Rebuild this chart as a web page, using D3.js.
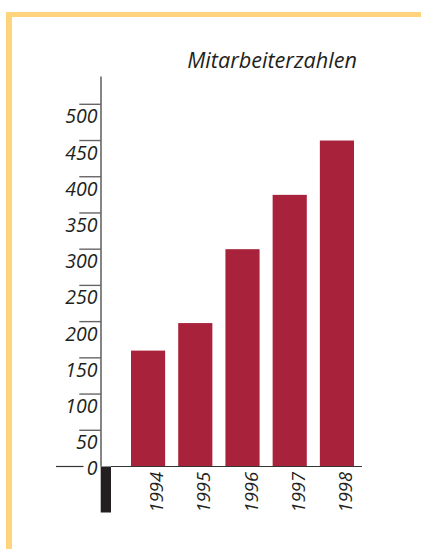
<!DOCTYPE html>
<html><head><meta charset="utf-8">
<script src="https://cdn.jsdelivr.net/npm/d3@7/dist/d3.min.js"></script>
<style>html,body{margin:0;padding:0;background:#fff;}svg{display:block;}</style>
</head><body>
<script>
const years = ["1994","1995","1996","1997","1998"];
const employees = [160, 198, 300, 375, 450];
const tickValues = [0,50,100,150,200,250,300,350,400,450,500];
const title = "Mitarbeiterzahlen";

const W = 421, H = 549;
const svg = d3.select("body").append("svg").attr("width", W).attr("height", H);
const font = "'Open Sans', sans-serif";

// frame
svg.append("rect").attr("x", 6).attr("y", 12).attr("width", W).attr("height", 5).attr("fill", "#FFD47C");
svg.append("rect").attr("x", 6).attr("y", 12).attr("width", 6).attr("height", H).attr("fill", "#FFD47C");

const y = d3.scaleLinear().domain([0, 500]).range([466.5, 104.3]);
const x = d3.scaleBand().domain(years).range([131, 354]).paddingInner(13/47).paddingOuter(0);

// bars
svg.selectAll("rect.bar").data(years).join("rect").attr("class","bar")
  .attr("x", d => x(d)).attr("width", x.bandwidth())
  .attr("y", (d,i) => y(employees[i])).attr("height", (d,i) => y(0) - y(employees[i]))
  .attr("fill", "#A8223C");

// axis vertical line
svg.append("line").attr("x1", 101).attr("x2", 101).attr("y1", 76.5).attr("y2", y(0))
  .attr("stroke", "#333").attr("stroke-width", 1.2);
// black block below axis
svg.append("rect").attr("x", 100.7).attr("y", y(0)).attr("width", 10.3).attr("height", 46).attr("fill", "#231f20");
// baseline
svg.append("line").attr("x1", 111).attr("x2", 362).attr("y1", y(0)).attr("y2", y(0))
  .attr("stroke", "#333").attr("stroke-width", 1.2);
svg.append("line").attr("x1", 56).attr("x2", 83.5).attr("y1", y(0)).attr("y2", y(0))
  .attr("stroke", "#333").attr("stroke-width", 1.2);

// ticks
const tv = tickValues.filter(v => v > 0);
svg.selectAll("line.tick").data(tv).join("line").attr("class","tick")
  .attr("x1", 79.3).attr("x2", 101).attr("y1", d => y(d)).attr("y2", d => y(d))
  .attr("stroke", "#666").attr("stroke-width", 1.4);
svg.selectAll("text.tl").data(tickValues).join("text").attr("class","tl")
  .attr("x", 97.5).attr("y", d => d === 0 ? y(d) + 8.5 : y(d) + 19)
  .attr("text-anchor", "end").attr("font-family", font).attr("font-style", "italic")
  .attr("font-size", 19.5).attr("fill", "#231f20").text(d => d);

// year labels
const yl = svg.selectAll("text.yl").data(years).join("text").attr("class","yl")
  .attr("transform", d => `translate(${x(d) + x.bandwidth()/2 + 15},${472}) rotate(-90)`)
  .attr("text-anchor", "end").attr("font-family", font).attr("font-style", "italic")
  .attr("font-size", 19).attr("fill", "#231f20").text(d => d);
const ylw = yl.node().getComputedTextLength();
if (ylw > 0) yl.attr("font-size", 19 * 40.5 / ylw);

// title
const t = svg.append("text").attr("x", 357).attr("y", 68).attr("text-anchor", "end")
  .attr("font-family", font).attr("font-style", "italic").attr("font-size", 20.5)
  .attr("fill", "#231f20").text(title);
const tw = t.node().getComputedTextLength();
if (tw > 0) t.attr("font-size", 20.5 * 170 / tw);
</script>
</body></html>
